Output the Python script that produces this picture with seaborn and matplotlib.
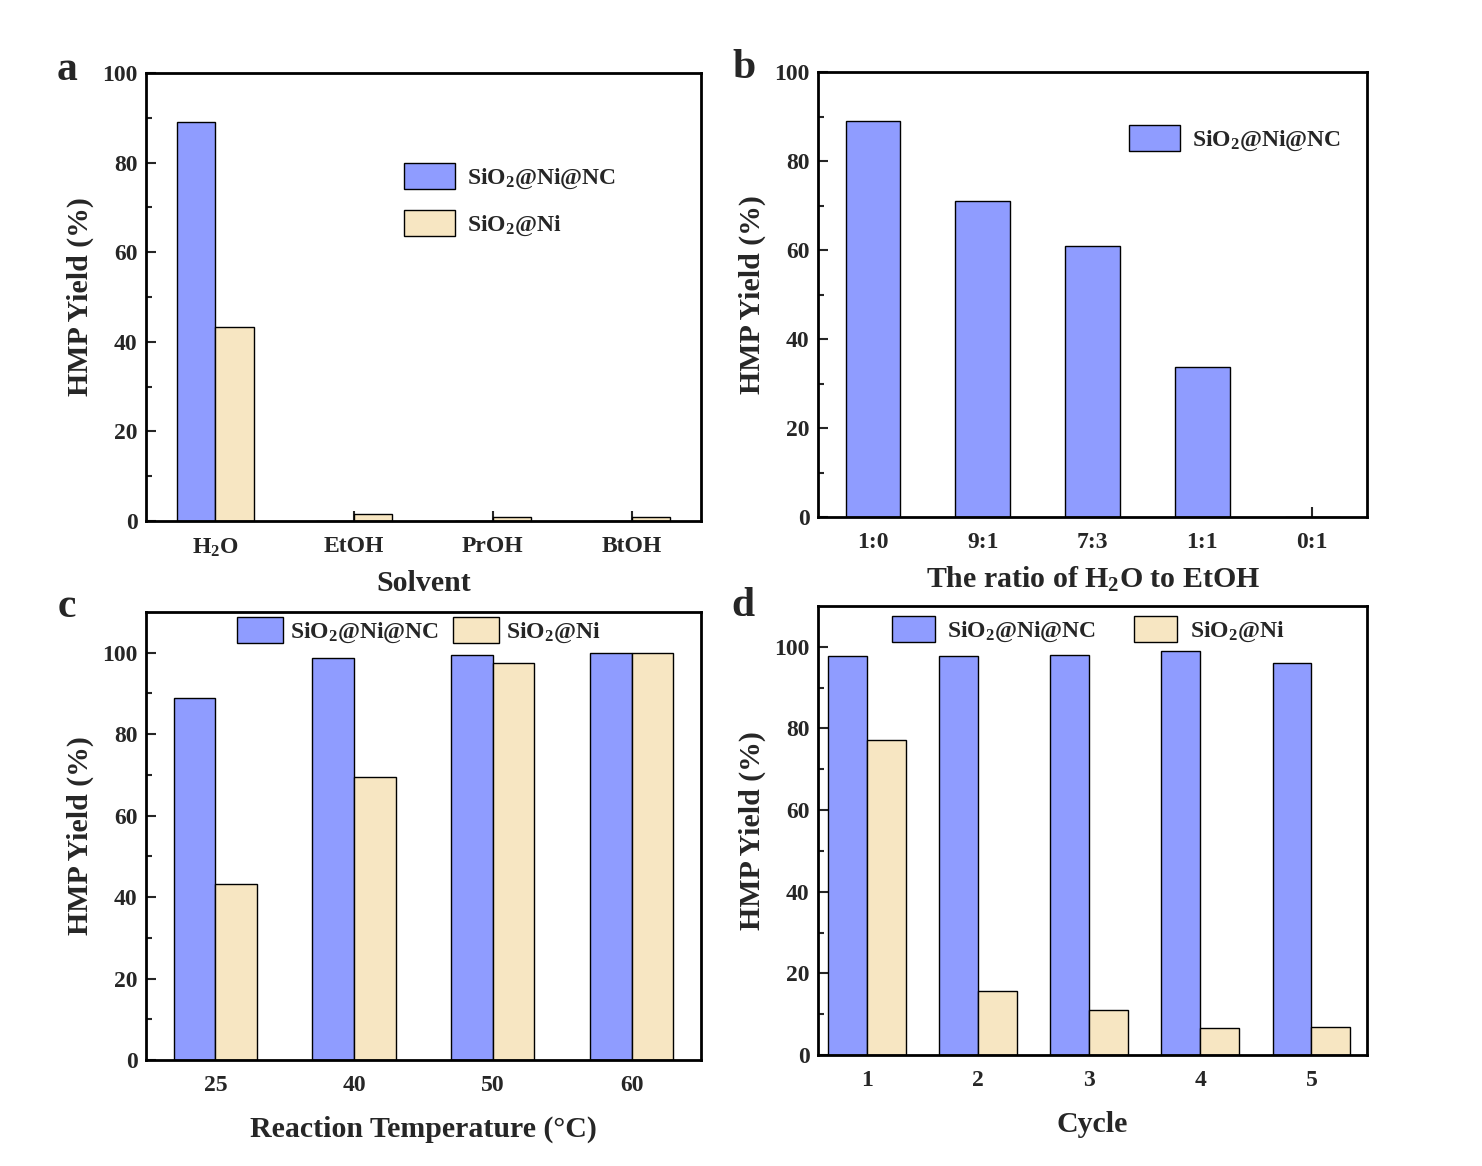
import matplotlib
matplotlib.use("Agg")
import matplotlib.pyplot as plt
import numpy as np
import pandas as pd
import seaborn as sb

# ---------------- data
labelNC = r"SiO$_2$@Ni@NC"
labelNi = r"SiO$_2$@Ni"

solvents = [r"H$_2$O", "EtOH", "PrOH", "BtOH"]
solventNC = [89.0, 0.0, 0.0, 0.0]
solventNi = [43.3, 1.6, 0.8, 0.8]

ratios = ["1:0", "9:1", "7:3", "1:1", "0:1"]
ratioNC = [89.0, 71.0, 60.9, 33.7, 0.0]

temps = ["25", "40", "50", "60"]
tempNC = [89.0, 98.8, 99.5, 100.0]
tempNi = [43.1, 69.4, 97.5, 100.0]

cycles = ["1", "2", "3", "4", "5"]
cycleNC = [97.8, 97.8, 98.0, 99.0, 96.1]
cycleNi = [77.2, 15.7, 11.0, 6.6, 6.9]

blue = "#8f9cff"
tan = "#f7e6c2"

sb.set_style("ticks")
plt.rcParams['font.family'] = ['Liberation Serif', 'DejaVu Serif']
plt.rcParams['font.weight'] = 'bold'
plt.rcParams['axes.labelweight'] = 'bold'
plt.rcParams['mathtext.fontset'] = 'custom'
plt.rcParams['mathtext.rm'] = 'Liberation Serif:bold'
plt.rcParams['mathtext.bf'] = 'Liberation Serif:bold'
plt.rcParams['mathtext.it'] = 'Liberation Serif:bold'
plt.rcParams['mathtext.default'] = 'rm'

TICKSIZE = 17
LABELSIZE = 21.5


def longform(cats, nc, ni):
    df = pd.DataFrame({"cat": cats * 2,
                       "val": nc + ni,
                       "cat2": [labelNC] * len(cats) + [labelNi] * len(cats)})
    return df


def style_axes(ax, ymax, xlim):
    ax.set_ylim(0, ymax)
    ax.set_xlim(*xlim)
    ax.set_yticks(np.arange(0, 101, 20))
    ax.set_yticks(np.arange(10, 100, 20), minor=True)
    ax.tick_params(axis='both', which='major', direction='in', length=7, width=1.5,
                   labelsize=TICKSIZE, pad=6, top=False, right=False)
    ax.tick_params(axis='x', which='major', pad=11)
    ax.tick_params(axis='y', which='minor', direction='in', length=4, width=1.5, right=False)
    ax.tick_params(axis='x', which='minor', bottom=False)
    for s in ax.spines.values():
        s.set_visible(True)
        s.set_linewidth(2)
        s.set_color("black")
    ax.set_ylabel("HMP Yield (%)", fontsize=LABELSIZE, fontweight='bold', labelpad=6)


fig = plt.figure(figsize=(14.82, 11.66), dpi=100)
axA = fig.add_axes([0.0985, 0.5532, 0.3745, 0.3842])
axB = fig.add_axes([0.5520, 0.5566, 0.3704, 0.3816])
axC = fig.add_axes([0.0985, 0.0909, 0.3745, 0.3842])
axD = fig.add_axes([0.5520, 0.0952, 0.3704, 0.3851])

legkw = dict(frameon=False, fontsize=17, handleheight=1.3)

###################################### a
sb.barplot(data=longform(solvents, solventNC, solventNi), x="cat", y="val", hue="cat2",
           palette=[blue, tan], width=0.55, gap=0, edgecolor="black", linewidth=1,
           saturation=1, ax=axA)
style_axes(axA, 100, (-0.5, 3.5))
axA.set_xlabel("Solvent", fontsize=LABELSIZE, fontweight='bold', labelpad=8)
h, l = axA.get_legend_handles_labels()
axA.legend(h, l, loc="upper left", bbox_to_anchor=(0.427, 0.846), labelspacing=0.8,
           handlelength=2.15, handletextpad=0.5, **legkw)

###################################### b
sb.barplot(x=ratios, y=ratioNC, color=blue, width=0.5, edgecolor="black", linewidth=1,
           saturation=1, ax=axB, label=labelNC)
style_axes(axB, 100, (-0.5, 4.5))
axB.set_xlabel(r"The ratio of H$_2$O to EtOH", fontsize=LABELSIZE, fontweight='bold', labelpad=8)
axB.legend(loc="upper left", bbox_to_anchor=(0.528, 0.928),
           handlelength=2.15, handletextpad=0.5, **legkw)

###################################### c
sb.barplot(data=longform(temps, tempNC, tempNi), x="cat", y="val", hue="cat2",
           palette=[blue, tan], width=0.6, gap=0, edgecolor="black", linewidth=1,
           saturation=1, ax=axC)
style_axes(axC, 110, (-0.5, 3.5))
axC.set_xlabel("Reaction Temperature (°C)", fontsize=LABELSIZE, fontweight='bold', labelpad=14)
h, l = axC.get_legend_handles_labels()
axC.legend(h, l, loc="upper left", bbox_to_anchor=(0.125, 1.036), ncol=2,
           handlelength=1.95, handletextpad=0.3, columnspacing=0.6, **legkw)

###################################### d
sb.barplot(data=longform(cycles, cycleNC, cycleNi), x="cat", y="val", hue="cat2",
           palette=[blue, tan], width=0.7, gap=0, edgecolor="black", linewidth=1,
           saturation=1, ax=axD)
style_axes(axD, 110, (-0.44, 4.5))
axD.set_xlabel("Cycle", fontsize=LABELSIZE, fontweight='bold', labelpad=14)
h, l = axD.get_legend_handles_labels()
axD.legend(h, l, loc="upper left", bbox_to_anchor=(0.096, 1.024), ncol=2,
           handlelength=1.8, handletextpad=0.55, columnspacing=1.6, **legkw)

for ax in (axA, axB, axC, axD):
    for t in ax.get_xticklabels() + ax.get_yticklabels():
        t.set_fontweight('bold')

fig.text(0.045, 0.94, "a", fontsize=30, fontweight='bold', va='center', ha='center')
fig.text(0.502, 0.942, "b", fontsize=30, fontweight='bold', va='center', ha='center')
fig.text(0.045, 0.479, "c", fontsize=30, fontweight='bold', va='center', ha='center')
fig.text(0.501, 0.48, "d", fontsize=30, fontweight='bold', va='center', ha='center')

fig.savefig("out.png", dpi=100)
